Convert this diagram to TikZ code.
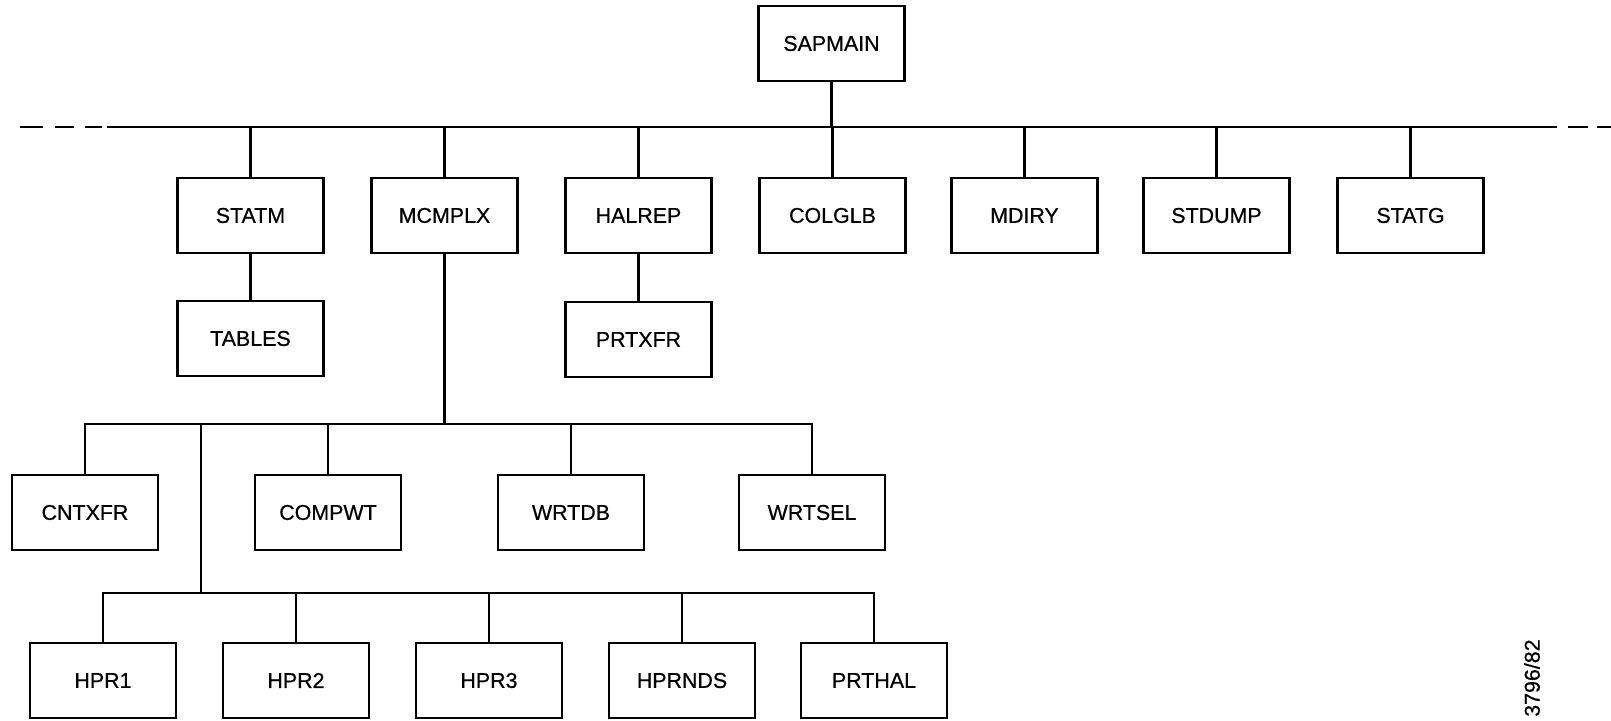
\documentclass[tikz,border=0pt]{standalone}
\usepackage{fontspec}
\setmainfont{Liberation Sans}
\newfontfamily\lblfont{Liberation Sans}[AutoFakeBold=0.6]
\begin{document}
\begin{tikzpicture}[x=0.5pt,y=-0.5pt,
  line width=1.4pt,
  lbl/.style={font=\lblfont\bfseries\fontsize{10.7}{12}\selectfont},
  modbox/.style={draw, rectangle, minimum width=73pt, minimum height=37.5pt,
    inner sep=0pt, lbl},
  link/.style={line width=1.4pt}]
\useasboundingbox (0,0) rectangle (1611,721);

% top-level module
\node[modbox] (sapmain) at (831.5,43.5) {SAPMAIN};

% main call bus with dashed continuation at both ends
\coordinate (busL) at (107,127);
\coordinate (busR) at (1557,127);
\draw[link] (busL) -- (busR);
\draw[link] (20,127) -- (43,127);
\draw[link] (55,127) -- (74,127);
\draw[link] (85,127) -- (102,127);
\draw[link] (1568,127) -- (1588,127);
\draw[link] (1597,127) -- (1611,127);
\draw[link] (sapmain.south) -- (sapmain.south |- busL);

% first level
\node[modbox] (statm)  at (250.5,215.5) {STATM};
\node[modbox] (mcmplx) at (444.5,215.5) {MCMPLX};
\node[modbox] (halrep) at (638.5,215.5) {HALREP};
\node[modbox] (colglb) at (832.5,215.5) {COLGLB};
\node[modbox] (mdiry)  at (1024.5,215.5) {MDIRY};
\node[modbox] (stdump) at (1216.5,215.5) {STDUMP};
\node[modbox] (statg)  at (1410.5,215.5) {STATG};
\foreach \n in {statm,mcmplx,halrep,colglb,mdiry,stdump,statg}
  \draw[link] (\n.north) -- (\n.north |- busL);

% second level under STATM and HALREP
\node[modbox] (tables) at (250.5,338.5) {TABLES};
\node[modbox] (prtxfr) at (638.5,339.5) {PRTXFR};
\draw[link] (statm.south) -- (tables.north);
\draw[link] (halrep.south) -- (prtxfr.north);

% MCMPLX callees
\coordinate (busB) at (85,424);
\coordinate (busBend) at (812,424);
\node[modbox] (cntxfr) at (85,512.5) {CNTXFR};
\node[modbox] (compwt) at (328,512.5) {COMPWT};
\node[modbox] (wrtdb)  at (571,512.5) {WRTDB};
\node[modbox] (wrtsel) at (812,512.5) {WRTSEL};
\draw[link] (mcmplx.south) -- (mcmplx.south |- busB);
\draw[link] (cntxfr.north) |- (busBend) -- (wrtsel.north);
\foreach \n in {compwt,wrtdb}
  \draw[link] (\n.north) -- (\n.north |- busB);

% HPR group
\coordinate (drop) at (201,424);
\coordinate (busC) at (103,593);
\coordinate (busCend) at (874,593);
\node[modbox] (hpr1)   at (103,680.5) {HPR1};
\node[modbox] (hpr2)   at (296,680.5) {HPR2};
\node[modbox] (hpr3)   at (489,680.5) {HPR3};
\node[modbox] (hprnds) at (682,680.5) {HPRNDS};
\node[modbox] (prthal) at (874,680.5) {PRTHAL};
\draw[link] (drop) -- (drop |- busC);
\draw[link] (hpr1.north) |- (busCend) -- (prthal.north);
\foreach \n in {hpr2,hpr3,hprnds}
  \draw[link] (\n.north) -- (\n.north |- busC);

% drawing number
\node[rotate=90, anchor=east, inner sep=0pt, lbl]
  (dwgno) at (1532,638) {3796/82};
\end{tikzpicture}
\end{document}
